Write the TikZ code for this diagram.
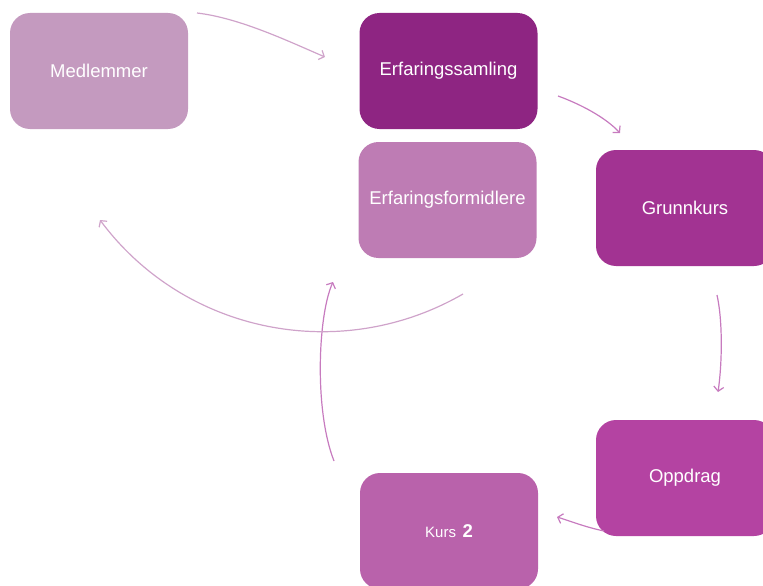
\documentclass[tikz,border=0pt]{standalone}
\usepackage{fontspec}
\setmainfont{Liberation Sans}
\usetikzlibrary{arrows.meta}
\definecolor{cmedl}{HTML}{C49ABF}
\definecolor{cerfs}{HTML}{8E2582}
\definecolor{cerff}{HTML}{BE7CB4}
\definecolor{cgrunn}{HTML}{A23392}
\definecolor{coppd}{HTML}{B443A2}
\definecolor{ckurs}{HTML}{B962AB}
\definecolor{carrow}{HTML}{C77BBF}
\definecolor{carrowl}{HTML}{CFA3CA}
\tikzset{
    boxn/.style = {rectangle, rounded corners=20pt, minimum width=178pt, minimum height=116pt,
                   inner sep=0pt, text=white, font=\fontsize{18.5}{22}\selectfont},
    edgep/.style = {-{Straight Barb[length=4.5pt,width=10pt]}, line width=1.2pt, carrow},
    edgel/.style = {edgep, carrowl}, % lighter
}

\begin{document}
\begin{tikzpicture}[x=1pt,y=-1pt]
\useasboundingbox (0,0) rectangle (763,586);

\node[boxn, fill=cmedl]  at (99.0, 71.0)  (medl)  {Medlemmer};
\node[boxn, fill=cerfs]  at (448.5, 71.0) (erfs)  {Erfaringssamling};
\node[boxn, fill=cerff]  at (447.5, 200.0) (erff) {Erfaringsformidlere};
\node[boxn, fill=cgrunn] at (685.0, 208.0) (grunn) {Grunnkurs};
\node[boxn, fill=coppd]  at (685.0, 478.0) (oppd)  {Oppdrag};
\node[boxn, fill=ckurs]  at (449.0, 531.0) (kurs)
     {{\fontsize{15}{18}\selectfont Kurs}\hspace{0.35em}{\bfseries 2}};
%
\coordinate (medl-out)  at (197, 13);
\coordinate (erfs-in)   at (325, 57);
\coordinate (erfs-out)  at (558, 96);
\coordinate (grunn-in)  at (620, 133);
\coordinate (grunn-out) at (717, 295);
\coordinate (oppd-in)   at (718, 392);
\coordinate (oppd-out)  at (604, 531);
\coordinate (kurs-in)   at (557, 517);
\coordinate (kurs-out)  at (334, 461);
\coordinate (erff-in)   at (333, 282);
\coordinate (erff-out)  at (463, 294);
\coordinate (medl-in)   at (100, 220);
%
\draw[edgel] (medl-out) .. controls (240, 18) and (290, 42) .. (erfs-in);
\draw[edgep] (erfs-out) .. controls (580, 104) and (605, 117) .. (grunn-in);
\draw[edgep] (grunn-out) .. controls (723, 322) and (722, 365) .. (oppd-in);
\draw[edgep] (oppd-out) .. controls (585, 527) and (570, 521) .. (kurs-in);
\draw[edgep] (kurs-out) .. controls (314, 410) and (318, 315) .. (erff-in);
\draw[edgel] (erff-out) .. controls (340.5, 364.7) and (184.5, 333.5) .. (medl-in);

\end{tikzpicture}
\end{document}
